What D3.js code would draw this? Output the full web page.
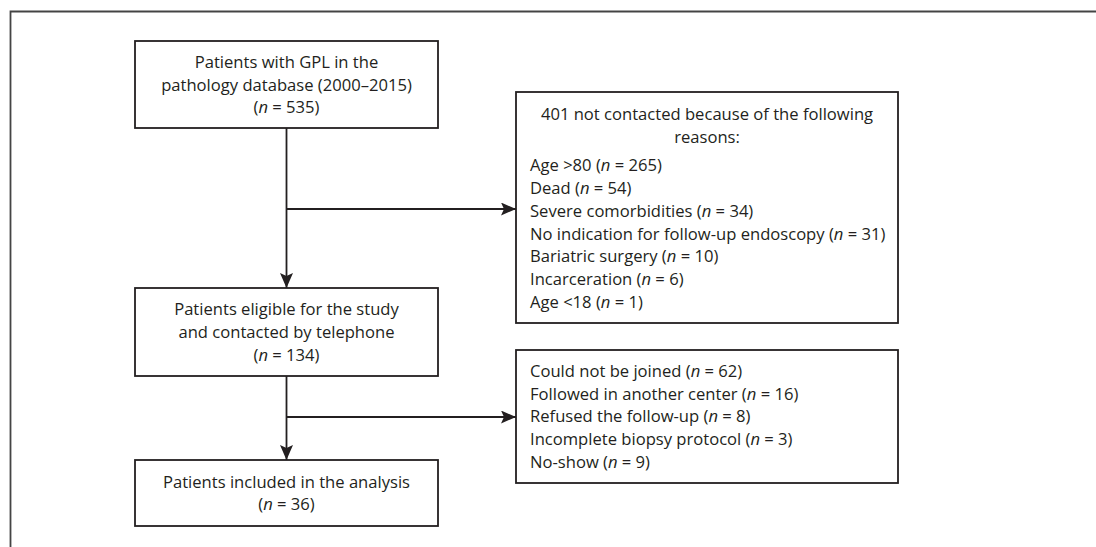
<!DOCTYPE html>
<html>
<head>
<meta charset="utf-8">
<script src="https://cdn.jsdelivr.net/npm/d3@7"></script>
<style>
  body { margin: 0; background: #fff; }
  svg text { font-family: "Open Sans", "Noto Sans", sans-serif; fill: #231f20; }
</style>
</head>
<body>
<div id="chart"></div>
<script>
// Flow steps (main column)
const mainSteps = [
  ["Patients with GPL in the", "pathology database (2000\u20132015)", "(n = 535)"],
  ["Patients eligible for the study", "and contacted by telephone", "(n = 134)"],
  ["Patients included in the analysis", "(n = 36)"]
];

// Exclusion boxes
const exclHeaders = [
  ["401 not contacted because of the following", "reasons:"],
  []
];
const exclReasons = [
  ["Age >80 (n = 265)", "Dead (n = 54)", "Severe comorbidities (n = 34)",
   "No indication for follow-up endoscopy (n = 31)", "Bariatric surgery (n = 10)",
   "Incarceration (n = 6)", "Age <18 (n = 1)"],
  ["Could not be joined (n = 62)", "Followed in another center (n = 16)",
   "Refused the follow-up (n = 8)", "Incomplete biopsy protocol (n = 3)", "No-show (n = 9)"]
];

const W = 1096, H = 547;
const ink = "#231f20";
const lineH = 22.7;
const fontSize = 16.6;

const svg = d3.select("#chart").append("svg")
  .attr("width", W).attr("height", H);

svg.append("defs").append("marker")
  .attr("id", "arrow")
  .attr("viewBox", "0 0 15 13")
  .attr("refX", 15).attr("refY", 6.5)
  .attr("markerWidth", 15).attr("markerHeight", 13)
  .attr("markerUnits", "userSpaceOnUse")
  .attr("orient", "auto")
  .append("path")
    .attr("d", "M0,0L15,6.5L0,13L3,6.5Z")
    .attr("fill", ink);

// outer frame (top and left edges only visible)
svg.append("path")
  .attr("d", "M10.5,547V11.5H1096")
  .attr("fill", "none")
  .attr("stroke", "#444")
  .attr("stroke-width", 1.8);

// box geometry
const mainX = 135, mainW = 303;
const mainBoxes = [{y: 41, h: 87}, {y: 288, h: 88}, {y: 460, h: 66}];
const exX = 516, exW = 382;
const exBoxes = [{y: 92, h: 231}, {y: 350, h: 133}];
const branchY = [209, 417];
const cx = mainX + mainW / 2;

// writes a line, italicising the "n" inside "(n = ...)"
function writeLine(sel, str) {
  const m = str.match(/^(.*\()n( = .*)$/);
  if (!m) { sel.text(str); return; }
  sel.append("tspan").text(m[1]);
  sel.append("tspan").style("font-style", "italic").text("n");
  sel.append("tspan").text(m[2]);
}

// main boxes
mainBoxes.forEach((b, i) => {
  svg.append("rect")
    .attr("x", mainX).attr("y", b.y)
    .attr("width", mainW).attr("height", b.h)
    .attr("fill", "#fff").attr("stroke", ink).attr("stroke-width", 1.8);
  const lines = mainSteps[i];
  const first = b.y + b.h / 2 - (lines.length - 1) * lineH / 2 + 6;
  lines.forEach((l, j) => {
    const t = svg.append("text")
      .attr("x", cx).attr("y", first + j * lineH)
      .attr("text-anchor", "middle")
      .style("font-size", fontSize + "px");
    writeLine(t, l);
  });
});

// vertical arrows between main boxes
for (let i = 0; i < mainBoxes.length - 1; i++) {
  svg.append("line")
    .attr("x1", cx).attr("x2", cx)
    .attr("y1", mainBoxes[i].y + mainBoxes[i].h)
    .attr("y2", mainBoxes[i + 1].y)
    .attr("stroke", ink).attr("stroke-width", 1.8)
    .attr("marker-end", "url(#arrow)");
}

// exclusion boxes and branch arrows
exBoxes.forEach((b, i) => {
  svg.append("rect")
    .attr("x", exX).attr("y", b.y)
    .attr("width", exW).attr("height", b.h)
    .attr("fill", "#fff").attr("stroke", ink).attr("stroke-width", 1.8);

  svg.append("line")
    .attr("x1", cx).attr("x2", exX)
    .attr("y1", branchY[i]).attr("y2", branchY[i])
    .attr("stroke", ink).attr("stroke-width", 1.8)
    .attr("marker-end", "url(#arrow)");

  const head = exclHeaders[i], items = exclReasons[i];
  let y = b.y + (head.length ? 28 : 27);
  head.forEach(l => {
    svg.append("text")
      .attr("x", exX + exW / 2).attr("y", y)
      .attr("text-anchor", "middle")
      .style("font-size", fontSize + "px")
      .text(l);
    y += lineH;
  });
  if (head.length) y += 6;
  items.forEach(l => {
    const t = svg.append("text")
      .attr("x", exX + 14).attr("y", y)
      .style("font-size", fontSize + "px");
    writeLine(t, l);
    y += lineH;
  });
});
</script>
</body>
</html>
